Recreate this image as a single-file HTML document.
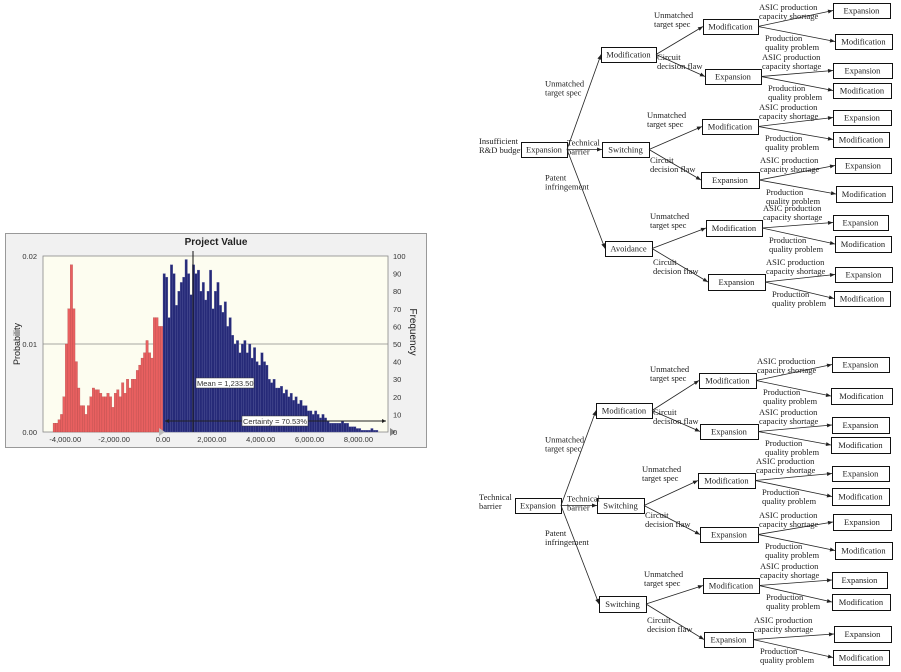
<!DOCTYPE html>
<html><head><meta charset="utf-8"><style>
html,body{margin:0;padding:0;background:#fff;width:901px;height:672px;overflow:hidden}
svg{display:block}
.t{font-family:"Liberation Serif",serif;font-size:8.5px;fill:#222}
.c{font-family:"Liberation Sans",sans-serif;font-size:7.5px;fill:#333}
</style></head><body>
<svg id="s" width="901" height="672" xmlns="http://www.w3.org/2000/svg"></svg>
<script>
const s=document.getElementById('s');let h='';
h+='<rect x="5.5" y="233.5" width="421" height="214" fill="#f1f1f1" stroke="#999"/>';
h+='<rect x="43" y="256" width="345" height="176" fill="#fdfdf0" stroke="#888" stroke-width="0.8"/>';
h+='<text x="216" y="245" text-anchor="middle" style="font-family:Liberation Sans,sans-serif;font-size:10px;font-weight:bold" fill="#222">Project Value</text>';
h+='<line x1="43" y1="344" x2="388" y2="344" stroke="#888" stroke-width="0.8"/>';
const red=[5,5,7,10,20,50,70,95,70,40,25,15,15,10,15,20,25,24,24,22,20,20,22,20,14,22,24,20,28,22,30,25,30,30,35,38,42,45,52,45,42,65,65,60,60];
const blue=[90,88,65,95,90,72,80,85,88,98,90,78,95,90,92,80,85,75,80,92,70,80,85,72,68,74,60,65,55,50,52,45,50,52,45,50,42,48,40,38,45,40,38,30,28,30,25,25,26,22,24,20,22,18,20,16,18,15,15,12,12,10,12,10,8,10,8,6,5,5,5,5,5,6,5,5,3,3,3,2,2,1,1,1,1,2,1,1];
const sx=v=>163+v*0.02443, bw=100*0.02443;
red.forEach((f,i)=>{const x=sx(-4500+i*100);h+=`<rect x="${x}" y="${432-f*1.76}" width="${bw}" height="${f*1.76}" fill="#e86060" stroke="#b04848" stroke-width="0.3"/>`});
blue.forEach((f,i)=>{const x=sx(i*100);h+=`<rect x="${x}" y="${432-f*1.76}" width="${bw}" height="${f*1.76}" fill="#262a78" stroke="#5a5ea0" stroke-width="0.3"/>`});
h+='<line x1="193" y1="251" x2="193" y2="432" stroke="#111" stroke-width="1"/>';
h+='<rect x="196" y="378" width="58" height="10" fill="#fff" stroke="#333" stroke-width="0.5"/><text class="c" x="197" y="386">Mean = 1,233.50</text>';
h+='<line x1="165" y1="421" x2="386" y2="421" stroke="#222"/><path d="M165 421l4-2v4zM386 421l-4-2v4z" fill="#222"/>';
h+='<rect x="242" y="416" width="66" height="10" fill="#fff" stroke="#333" stroke-width="0.5"/><text class="c" x="243" y="424">Certainty = 70.53%</text>';
h+='<path d="M159 428v8l6-4z" fill="#bbb"/><path d="M396 432l-6-4v8z" fill="#888"/>';
[[0.02,256],[0.01,344],['0.00',432]].forEach(([t,y])=>h+=`<text class="c" x="37" y="${y+3}" text-anchor="end">${t}</text>`);
for(let i=0;i<=10;i++){const y=432-i*17.6;h+=`<text class="c" x="393" y="${y+3}">${i*10}</text>`}
[-4000,-2000,0,2000,4000,6000,8000].forEach(v=>h+=`<text class="c" x="${sx(v)}" y="442" text-anchor="middle">${v.toLocaleString('en-US')}.00</text>`);
h+='<text x="20" y="344" transform="rotate(-90 20 344)" text-anchor="middle" style="font-family:Liberation Sans,sans-serif;font-size:9px" fill="#222">Probability</text>';
h+='<text x="410" y="332" transform="rotate(90 410 332)" text-anchor="middle" style="font-family:Liberation Sans,sans-serif;font-size:10px" fill="#222">Frequency</text>';
function box(b,txt){h+=`<rect x="${b[0]+0.5}" y="${b[1]+0.5}" width="${b[2]-b[0]}" height="${b[3]-b[1]}" fill="#fff" stroke="#111" stroke-width="1"/><text class="t" x="${(b[0]+b[2])/2}" y="${(b[1]+b[3])/2+3}" text-anchor="middle">${txt}</text>`}
function arr(a,b){const x1=a[2],y1=(a[1]+a[3])/2,x2=b[0],y2=(b[1]+b[3])/2;const an=Math.atan2(y2-y1,x2-x1),c=Math.cos(an),sn=Math.sin(an);
h+=`<line x1="${x1}" y1="${y1}" x2="${x2}" y2="${y2}" stroke="#222" stroke-width="0.8"/><path d="M${x2} ${y2}L${x2-5*c+2*sn} ${y2-5*sn-2*c}L${x2-5*c-2*sn} ${y2-5*sn+2*c}z" fill="#222"/>`}
function lab(x,y,a,b){h+=`<text class="t" x="${x}" y="${y}">${a}</text><text class="t" x="${x}" y="${y+9}">${b}</text>`}
function tree(root,rt,l1,l1n,l2,l2n,l3){
 lab(479,rt[0],rt[1],rt[2]);box(root,'Expansion');
 l1.forEach((b,i)=>{box(b,l1n[i]);arr(root,b)});
 const ry=(root[1]+root[3])/2;
 lab(545,(ry+l1[0][1])/2-12,'Unmatched','target spec');lab(567,ry-4,'Technical','barrier');lab(545,(ry+l1[2][1])/2-15,'Patent','infringement');
 l2.forEach((b,i)=>{box(b,l2n[i]);const p=l1[i>>1];arr(p,b);
  if(i%2==0)lab(p[2]-2,b[1]-1,'Unmatched','target spec');else lab(p[2]+1,b[1]-9,'Circuit','decision flaw');});
 l3.forEach((b,i)=>{box(b,i%2?'Modification':'Expansion');const p=l2[i>>1];arr(p,b);
  if(i%2==0)lab(p[2]+1,p[1]-9,'ASIC  production','capacity  shortage');else lab(p[2]+7,p[3]+7,'Production','quality problem');});
}
tree([521,142,567,157],[144,'Insufficient','R&amp;D budget'],
 [[601,47,656,62],[602,142,649,157],[605,241,652,256]],['Modification','Switching','Avoidance'],
 [[703,19,758,34],[705,69,761,84],[702,119,758,134],[701,172,759,188],[706,220,762,236],[708,274,765,290]],
 ['Modification','Expansion','Modification','Expansion','Modification','Expansion'],
 [[833,3,890,18],[835,34,892,49],[833,63,892,78],[833,83,891,98],[833,110,891,125],[833,132,889,147],[835,158,891,173],[836,186,892,202],[833,215,888,230],[835,236,891,252],[835,267,892,282],[834,291,890,306]]);
tree([515,498,561,513],[500,'Technical','barrier'],
 [[596,403,652,418],[597,498,644,513],[599,596,646,612]],['Modification','Switching','Switching'],
 [[699,373,756,388],[700,424,758,439],[698,473,755,488],[700,527,758,542],[703,578,759,593],[704,632,753,647]],
 ['Modification','Expansion','Modification','Expansion','Modification','Expansion'],
 [[832,357,889,372],[831,388,892,404],[832,417,889,433],[831,437,890,453],[832,466,889,481],[832,488,889,505],[833,514,891,530],[835,542,892,559],[832,572,887,588],[832,594,890,610],[834,626,891,642],[833,650,889,665]]);
s.innerHTML=h;
</script>
</body></html>
